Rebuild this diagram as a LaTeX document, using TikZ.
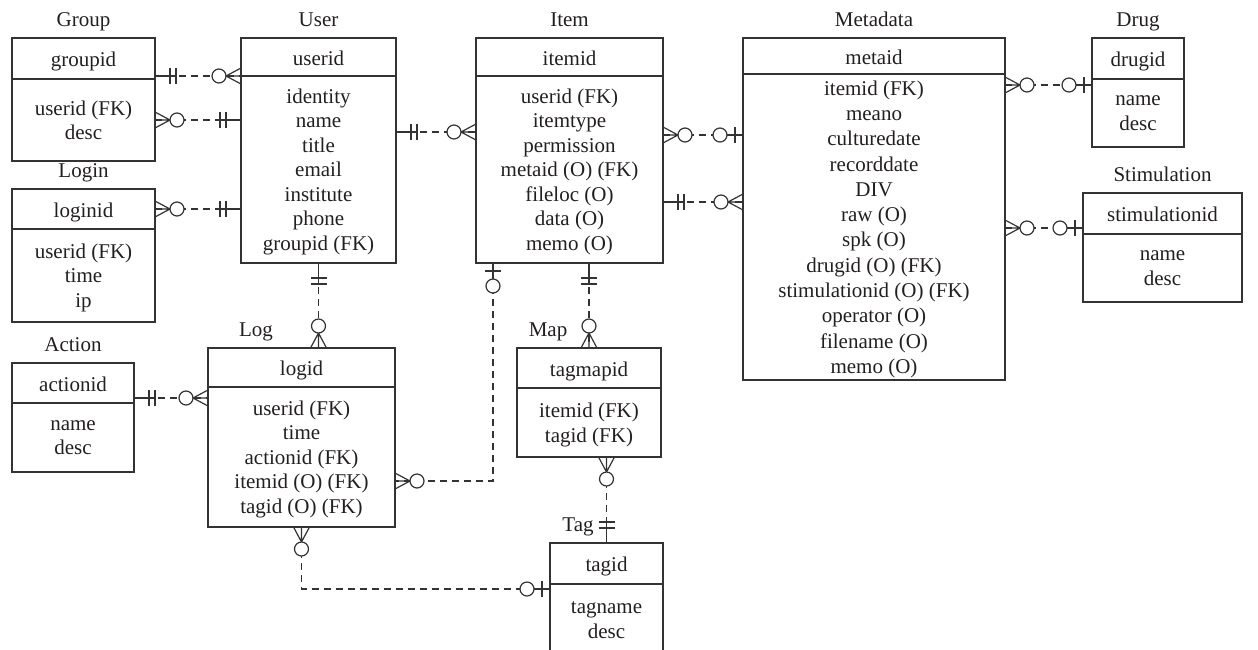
\documentclass[tikz,border=0pt]{standalone}
\usepackage{fontspec}
\setmainfont{Liberation Serif}
\usetikzlibrary{positioning}
\definecolor{erline}{HTML}{333333}
\definecolor{ertext}{HTML}{231F20}
\begin{document}
\begin{tikzpicture}[x=1pt,y=-1pt,
  font=\fontsize{21}{24.5}\selectfont,text=ertext,
  every node/.style={inner sep=0pt,outer sep=0pt},
  hdr/.style={draw=erline,line width=1.3pt,align=center,text height=16pt,text depth=0pt},
  bdy/.style={draw=erline,line width=1.3pt,align=center,text depth=-1pt},
  ttl/.style={anchor=base},
  rel/.style={draw=erline,line width=1.2pt,dash pattern=on 7pt off 5pt},
  onlyone/.pic={\draw[erline,line width=1.2pt] (0,0) -- (21,0) (15,-8) -- (15,8) (21,-8) -- (21,8);},
  zeromany/.pic={\draw[erline,line width=1.2pt] (0,-8) -- (15,0) -- (0,8) (0,0) -- (15,0);
    \draw[erline,line width=1.2pt,fill=white] (22,0) circle (7);},
  zeroone/.pic={\draw[erline,line width=1.2pt] (0,0) -- (16,0) (8,-8) -- (8,8);
    \draw[erline,line width=1.2pt,fill=white] (23,0) circle (7);}]
\useasboundingbox (0,0) rectangle (1258,649);
\clip (0,0) rectangle (1258,649);

\node[hdr,minimum width=143,minimum height=41] (grph) at (83.5,58.5) {groupid};
\node[bdy,minimum width=143,minimum height=82,below=0pt of grph] (grpb) {userid (FK)\\desc};
\node[ttl] (grpt) at ([yshift=12pt]grph.north) {Group};

\node[hdr,minimum width=155,minimum height=38] (usrh) at (318.5,57) {userid};
\node[bdy,minimum width=155,minimum height=187,below=0pt of usrh] (usrb) {identity\\name\\title\\email\\institute\\phone\\groupid (FK)};
\node[ttl] (usrt) at ([yshift=12pt]usrh.north) {User};

\node[hdr,minimum width=187,minimum height=38] (itmh) at (569.5,57) {itemid};
\node[bdy,minimum width=187,minimum height=187,below=0pt of itmh] (itmb) {userid (FK)\\itemtype\\permission\\metaid (O) (FK)\\fileloc (O)\\data (O)\\memo (O)};
\node[ttl] (itmt) at ([yshift=12pt]itmh.north) {Item};

\node[hdr,minimum width=262,minimum height=36] (meth) at (874,56) {metaid};
\node[bdy,minimum width=262,minimum height=306,below=0pt of meth,font=\fontsize{21}{25.3}\selectfont,text depth=-3pt] (metb) {itemid (FK)\\meano\\culturedate\\recorddate\\DIV\\raw (O)\\spk (O)\\drugid (O) (FK)\\stimulationid (O) (FK)\\operator (O)\\filename (O)\\memo (O)};
\node[ttl] (mett) at ([yshift=12pt]meth.north) {Metadata};

\node[hdr,minimum width=92,minimum height=41] (drgh) at (1138,58.5) {drugid};
\node[bdy,minimum width=92,minimum height=68,below=0pt of drgh] (drgb) {name\\desc};
\node[ttl] (drgt) at ([yshift=12pt]drgh.north) {Drug};

\node[hdr,minimum width=159,minimum height=41] (stmh) at (1162.5,213.5) {stimulationid};
\node[bdy,minimum width=159,minimum height=68,below=0pt of stmh] (stmb) {name\\desc};
\node[ttl] (stmt) at ([yshift=12pt]stmh.north) {Stimulation};

\node[hdr,minimum width=143,minimum height=40] (lgnh) at (83.5,209) {loginid};
\node[bdy,minimum width=143,minimum height=93,below=0pt of lgnh] (lgnb) {userid (FK)\\time\\ip};
\node[ttl] (lgnt) at ([yshift=12pt]lgnh.north) {Login};

\node[hdr,minimum width=122,minimum height=40] (acth) at (73,383) {actionid};
\node[bdy,minimum width=122,minimum height=69,below=0pt of acth] (actb) {name\\desc};
\node[ttl] (actt) at ([yshift=12pt]acth.north) {Action};

\node[hdr,minimum width=187,minimum height=39] (logh) at (301.5,367.5) {logid};
\node[bdy,minimum width=187,minimum height=140,below=0pt of logh] (logb) {userid (FK)\\time\\actionid (FK)\\itemid (O) (FK)\\tagid (O) (FK)};
\node[ttl] (logt) at ([xshift=48pt,yshift=12pt]logh.north west) {Log};

\node[hdr,minimum width=144,minimum height=40] (maph) at (589,368) {tagmapid};
\node[bdy,minimum width=144,minimum height=69,below=0pt of maph] (mapb) {itemid (FK)\\tagid (FK)};
\node[ttl] (mapt) at ([xshift=31pt,yshift=12pt]maph.north west) {Map};

\node[hdr,minimum width=113,minimum height=41] (tagh) at (606.5,563.5) {tagid};
\node[bdy,minimum width=113,minimum height=72,below=0pt of tagh] (tagb) {tagname\\desc};
\node[ttl] (tagt) at ([xshift=28pt,yshift=12pt]tagh.north west) {Tag};

\coordinate (ui) at ([yshift=-56pt]usrb.north east);
\coordinate (im1) at ([yshift=-59pt]itmb.north east);
\coordinate (im2) at ([yshift=-126pt]itmb.north east);
\coordinate (md) at ([yshift=-6pt]drgb.north west);
\coordinate (ms) at ([yshift=6pt]stmh.south west);
\coordinate (al) at ([yshift=5pt]acth.south east);
\coordinate (il) at ([xshift=17pt]itmb.south west);
\coordinate (li) at ([yshift=-94pt]logb.north east);
\coordinate (lt) at ([yshift=-5pt]tagb.north west);

\draw[rel] (grph.east |- usrh.south) -- (usrh.south west);
\draw[rel] (grpb.east) -- (grpb.east -| usrb.west);
\draw[rel] (lgnh.east) -- (lgnh.east -| usrb.west);
\draw[rel] (ui) -- (ui -| itmb.west);
\draw[rel] (im1) -- (im1 -| metb.west);
\draw[rel] (im2) -- (im2 -| metb.west);
\draw[rel] (md -| metb.east) -- (md);
\draw[rel] (ms -| metb.east) -- (ms);
\draw[rel] (al) -- (al -| logb.west);
\draw[rel] (usrb.south) -- (usrb.south |- logh.north);
\draw[rel] (il) |- (li);
\draw[rel] (logb.south) |- (lt);
\draw[rel] (itmb.south -| maph.north) -- (maph.north);
\draw[rel] (mapb.south -| tagh.north) -- (tagh.north);

\pic at (grph.east |- usrh.south) {onlyone};
\pic[rotate=180] at (usrh.south west) {zeromany};
\pic at (grpb.east) {zeromany};
\pic[rotate=180] at (grpb.east -| usrb.west) {onlyone};
\pic at (lgnh.east) {zeromany};
\pic[rotate=180] at (lgnh.east -| usrb.west) {onlyone};
\pic at (ui) {onlyone};
\pic[rotate=180] at (ui -| itmb.west) {zeromany};
\pic at (im1) {zeromany};
\pic[rotate=180] at (im1 -| metb.west) {zeroone};
\pic at (im2) {onlyone};
\pic[rotate=180] at (im2 -| metb.west) {zeromany};
\pic at (md -| metb.east) {zeromany};
\pic[rotate=180] at (md) {zeroone};
\pic at (ms -| metb.east) {zeromany};
\pic[rotate=180] at (ms) {zeroone};
\pic at (al) {onlyone};
\pic[rotate=180] at (al -| logb.west) {zeromany};
\pic[rotate=-90] at (usrb.south) {onlyone};
\pic[rotate=90] at (usrb.south |- logh.north) {zeromany};
\pic[rotate=-90] at (il) {zeroone};
\pic at (li) {zeromany};
\pic[rotate=-90] at (logb.south) {zeromany};
\pic[rotate=180] at (lt) {zeroone};
\pic[rotate=-90] at (itmb.south -| maph.north) {onlyone};
\pic[rotate=90] at (maph.north) {zeromany};
\pic[rotate=-90] at (mapb.south -| tagh.north) {zeromany};
\pic[rotate=90] at (tagh.north) {onlyone};
\end{tikzpicture}
\end{document}
